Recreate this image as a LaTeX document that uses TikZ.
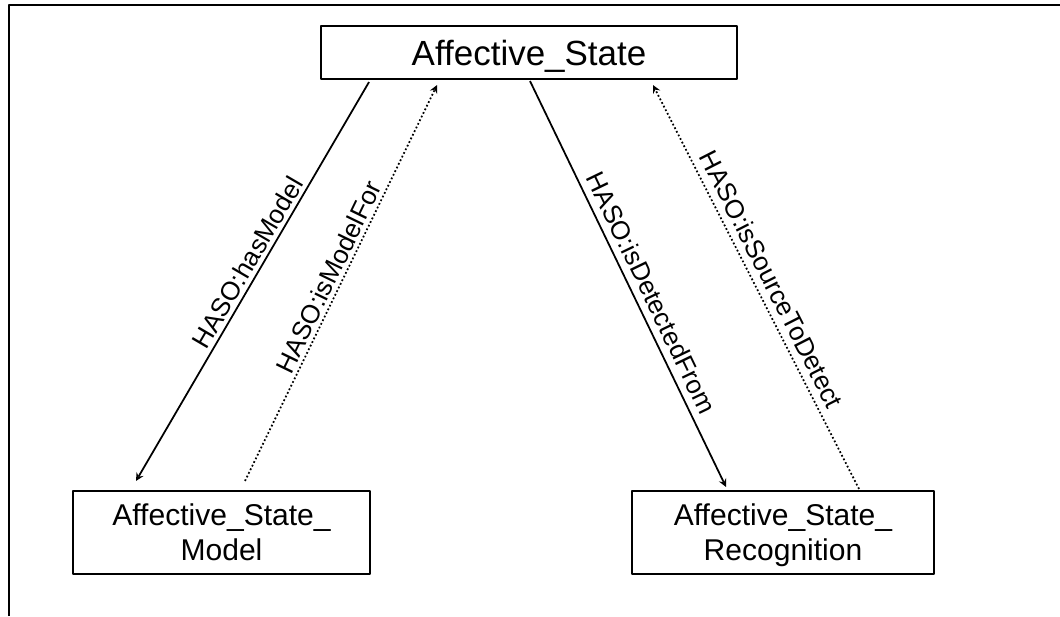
\documentclass[tikz,border=0pt]{standalone}
\usepackage{fontspec}
\setmainfont{Liberation Sans}
\begin{document}
\begin{tikzpicture}[>=stealth, x=0.02cm, y=-0.02cm, line join=round,
		cls/.style={draw, line width=1.2pt, inner sep=0pt, align=center, text depth=0pt},
		rel/.style={->, line width=1pt},
		inv/.style={->, line width=1pt, dash pattern=on 1pt off 1.3pt},
		lbl/.style={sloped, above, inner sep=2pt, font=\fontsize{14.8}{16}\selectfont}]
	\useasboundingbox (0,0) rectangle (1060,616);
	\draw[line width=1.2pt] (9,616) -- (9,5) -- (1060,5);
	\node[cls, minimum width=8.32cm, minimum height=1.06cm, font=\fontsize{19.9}{24}\selectfont]
		(as) at (529,52.5) {Affective\_State};
	\node[cls, minimum width=5.94cm, minimum height=1.66cm, font=\fontsize{17.1}{19.9}\selectfont]
		(asm) at (221.5,532.5) {Affective\_State\_\\Model};
	\node[cls, minimum width=6.04cm, minimum height=1.66cm, font=\fontsize{17.1}{19.9}\selectfont]
		(asr) at (783,532.5) {Affective\_State\_\\Recognition};
	\draw[rel] ([shift={(-160,2)}]as.south) -- ([shift={(-85.5,-9)}]asm.north)
		node[lbl, pos=0.47]{HASO:hasModel};
	\draw[inv] ([shift={(23.5,-9)}]asm.north) -- ([shift={(-92,5)}]as.south)
		node[lbl, pos=0.5]{HASO:isModelFor};
	\draw[rel] ([shift={(1,1)}]as.south) -- ([shift={(-57,-3)}]asr.north)
		node[lbl, pos=0.54, inner sep=4pt]{HASO:isDetectedFrom};
	\draw[inv] ([shift={(76,-1)}]asr.north) -- ([shift={(124,5)}]as.south)
		node[lbl, pos=0.5, inner sep=4pt]{HASO:isSourceToDetect};
\end{tikzpicture}
\end{document}
